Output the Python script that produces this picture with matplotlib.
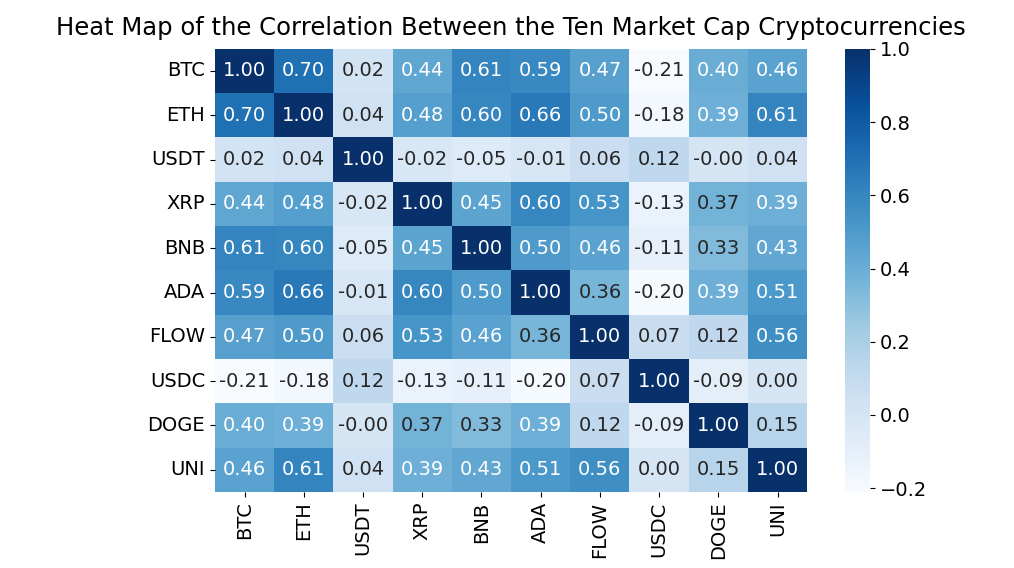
import matplotlib
matplotlib.use("Agg")
import matplotlib.pyplot as plt
import seaborn as sns
import pandas as pd

coins = ["BTC", "ETH", "USDT", "XRP", "BNB", "ADA", "FLOW", "USDC", "DOGE", "UNI"]

btc = [1.00, 0.70, 0.02, 0.44, 0.61, 0.59, 0.47, -0.21, 0.40, 0.46]
eth = [0.70, 1.00, 0.04, 0.48, 0.60, 0.66, 0.50, -0.18, 0.39, 0.61]
usdt = [0.02, 0.04, 1.00, -0.02, -0.05, -0.01, 0.06, 0.12, -0.001, 0.04]
xrp = [0.44, 0.48, -0.02, 1.00, 0.45, 0.60, 0.53, -0.13, 0.37, 0.39]
bnb = [0.61, 0.60, -0.05, 0.45, 1.00, 0.50, 0.46, -0.11, 0.33, 0.43]
ada = [0.59, 0.66, -0.01, 0.60, 0.50, 1.00, 0.36, -0.20, 0.39, 0.51]
flow = [0.47, 0.50, 0.06, 0.53, 0.46, 0.36, 1.00, 0.07, 0.12, 0.56]
usdc = [-0.21, -0.18, 0.12, -0.13, -0.11, -0.20, 0.07, 1.00, -0.09, 0.00]
doge = [0.40, 0.39, -0.001, 0.37, 0.33, 0.39, 0.12, -0.09, 1.00, 0.15]
uni = [0.46, 0.61, 0.04, 0.39, 0.43, 0.51, 0.56, 0.00, 0.15, 1.00]

corr = pd.DataFrame([btc, eth, usdt, xrp, bnb, ada, flow, usdc, doge, uni],
                    index=coins, columns=coins)

fig = plt.figure(figsize=(10.14, 5.68), dpi=100)
ax = fig.add_axes([0.212, 0.134, 0.584, 0.780])
cax = fig.add_axes([0.833, 0.134, 0.025, 0.780])

sns.heatmap(corr, annot=True, fmt=".2f", cmap="Blues", ax=ax, cbar_ax=cax,
            annot_kws={"size": 14})

ax.set_title("Heat Map of the Correlation Between the Ten Market Cap Cryptocurrencies",
             fontsize=17.5, pad=10)
ax.tick_params(axis="both", labelsize=14)
plt.setp(ax.get_yticklabels(), rotation=0)
plt.setp(ax.get_xticklabels(), rotation=90)
cax.tick_params(labelsize=14)
cax.set_yticks([-0.2, 0.0, 0.2, 0.4, 0.6, 0.8, 1.0])

fig.savefig("out.png", dpi=100)
